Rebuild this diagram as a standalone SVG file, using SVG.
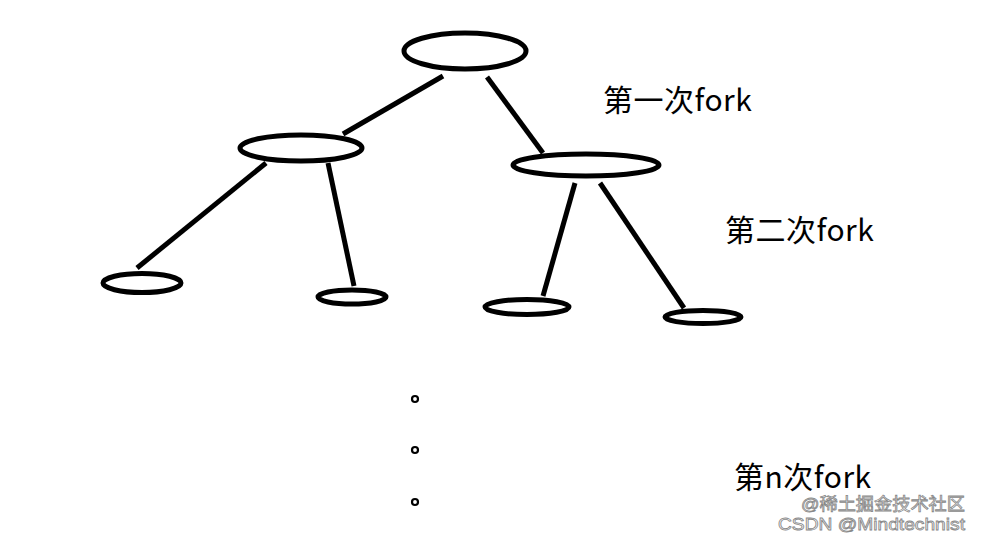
<svg xmlns="http://www.w3.org/2000/svg" width="981" height="536" viewBox="0 0 981 536">
<style>
.n{fill:none;stroke:#000;stroke-width:5}
.e{stroke:#000;stroke-width:5;stroke-linecap:butt;fill:none}
.d{fill:none;stroke:#000;stroke-width:2.2}
.t{font-family:"Noto Sans CJK SC","Microsoft YaHei",sans-serif;font-size:30px;letter-spacing:0.5px;fill:#000}
.w{font-family:"Liberation Sans","Noto Sans CJK SC",sans-serif;font-size:17px;fill:#fff;stroke:#888;stroke-width:0.8}
</style>
<rect width="981" height="536" fill="#fff"/>
<g id="connectors">
<line class="e" x1="443" y1="76" x2="343" y2="134"/>
<line class="e" x1="487" y1="77" x2="543" y2="153"/>
<line class="e" x1="266" y1="163" x2="137" y2="268"/>
<line class="e" x1="328" y1="163" x2="354" y2="286"/>
<line class="e" x1="575" y1="183" x2="543" y2="296"/>
<line class="e" x1="600" y1="183" x2="684" y2="308"/>
</g>
<g id="root"><ellipse class="n" cx="465" cy="51" rx="61" ry="18"/></g>
<g id="left"><ellipse class="n" cx="301" cy="148" rx="61" ry="13"/></g>
<g id="right"><ellipse class="n" cx="586" cy="165" rx="73" ry="11"/></g>
<g id="leaf1"><ellipse class="n" cx="142" cy="283" rx="39" ry="9.5"/></g>
<g id="leaf2"><ellipse class="n" cx="352" cy="297" rx="34" ry="7"/></g>
<g id="leaf3"><ellipse class="n" cx="527" cy="307" rx="42" ry="7.5"/></g>
<g id="leaf4"><ellipse class="n" cx="703" cy="317" rx="38" ry="6.5"/></g>
<g id="dots">
<circle class="d" cx="415" cy="399" r="3"/>
<circle class="d" cx="415" cy="450" r="3"/>
<circle class="d" cx="415" cy="502" r="3"/>
</g>
<g id="labels">
<text class="t" x="603" y="111">第一次fork</text>
<text class="t" x="725" y="241">第二次fork</text>
<text class="t" x="734" y="488">第n次fork</text>
</g>
<g id="watermark">
<text class="w" x="801" y="510" textLength="164" lengthAdjust="spacingAndGlyphs">@稀土掘金技术社区</text>
<text class="w" x="778" y="530" textLength="187" lengthAdjust="spacingAndGlyphs">CSDN @Mindtechnist</text>
</g>
</svg>
